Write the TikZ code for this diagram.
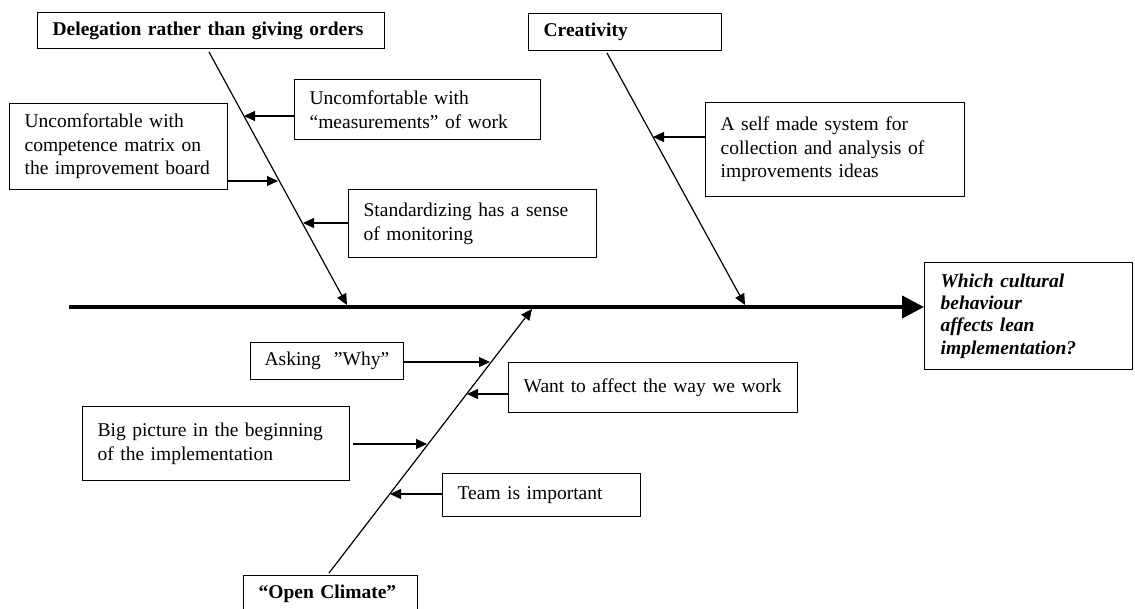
\documentclass[tikz,border=0pt]{standalone}
\usepackage{fontspec}
\setmainfont{Liberation Serif}
\usetikzlibrary{arrows.meta}
\tikzset{
  box/.style={draw, line width=1.3pt, anchor=north west, inner xsep=15pt, inner ysep=0pt,
    align=left, font=\fontsize{19.5}{23.5}\selectfont},
  head/.style={box, font=\fontsize{19.5}{22}\selectfont\bfseries},
  bone/.style={line width=1.2pt, -{Triangle[length=11pt,width=10pt]}},
  sub/.style={line width=1.2pt, -{Triangle[length=11pt,width=10pt]}},
  spine/.style={line width=4pt, -{Triangle[length=22pt,width=22pt]}}
}
\begin{document}
\begin{tikzpicture}[x=1pt,y=-1pt]
\useasboundingbox (0,0) rectangle (1135,608);
% header boxes
\node[head, text width=317pt, minimum height=36pt] (del) at (37,12) {\mbox{Delegation rather than giving orders}};
\node[head, text width=163pt, minimum height=37pt] (cre) at (528,13) {Creativity};
\node[head, text width=144pt, minimum height=37pt] (open) at (243,575) {\mbox{“Open Climate”}};
% effect box
\node[box, inner xsep=16pt, text width=176pt, minimum height=107pt,
  font=\fontsize{19.5}{22.3}\selectfont\bfseries\itshape] (q) at (924,262)
  {Which cultural\\behaviour\\affects lean\\implementation?};
% cause boxes
\node[box, text width=216pt, minimum height=60pt] (meas) at (294,79) {\mbox{Uncomfortable with}\\\mbox{“measurements” of work}};
\node[box, text width=188pt, minimum height=86pt] (comp) at (9,103) {\mbox{Uncomfortable with}\\\mbox{competence matrix on}\\\mbox{the improvement board}};
\node[box, text width=218pt, minimum height=68pt] (std) at (348,189) {\mbox{Standardizing has a sense}\\\mbox{of monitoring}};
\node[box, text width=229pt, minimum height=94pt] (self) at (705,102) {\mbox{A self made system for}\\\mbox{collection and analysis of}\\\mbox{improvements ideas}};
\node[box, inner xsep=14pt, text width=125pt, minimum height=37pt] (why) at (250,342) {\mbox{Asking\ \ ”Why”}};
\node[box, text width=259pt, minimum height=50pt] (want) at (508,362) {\mbox{Want to affect the way we work}\\[-6pt]};
\node[box, text width=237pt, minimum height=74pt] (big) at (82,406) {\mbox{Big picture in the beginning}\\\mbox{of the implementation}\\[-8pt]};
\node[box, text width=168pt, minimum height=43pt] (team) at (442,473) {\mbox{Team is important}};
% spine
\coordinate (s0) at (69,307);
\draw[spine] (s0) -- (s0 -| q.west);
% bones
\coordinate (d0) at (209,52);
\coordinate (d1) at (347,305);
\coordinate (c0) at (607,53);
\coordinate (c1) at (745,305);
\coordinate (o0) at (329,573);
\coordinate (o1) at (532,309);
\draw[bone] (d0) -- (d1);
\draw[bone] (c0) -- (c1);
\draw[bone] (o0) -- (o1);
% sub causes
\coordinate (m) at (244,116);
\coordinate (c) at (278,181);
\coordinate (s) at (303,223);
\coordinate (a) at (653,137);
\coordinate (w) at (490,362);
\coordinate (f) at (467,394);
\coordinate (b) at (427,444);
\coordinate (t) at (390,494);
\draw[sub] (meas.west |- m) -- (m);
\draw[sub] (comp.east |- c) -- (c);
\draw[sub] (std.west |- s) -- (s);
\draw[sub] (self.west |- a) -- (a);
\draw[sub] (why.east |- w) -- (w);
\draw[sub] (want.west |- f) -- (f);
\draw[sub] ([xshift=3pt]big.east |- b) -- (b);
\draw[sub] (team.west |- t) -- (t);
\end{tikzpicture}
\end{document}
